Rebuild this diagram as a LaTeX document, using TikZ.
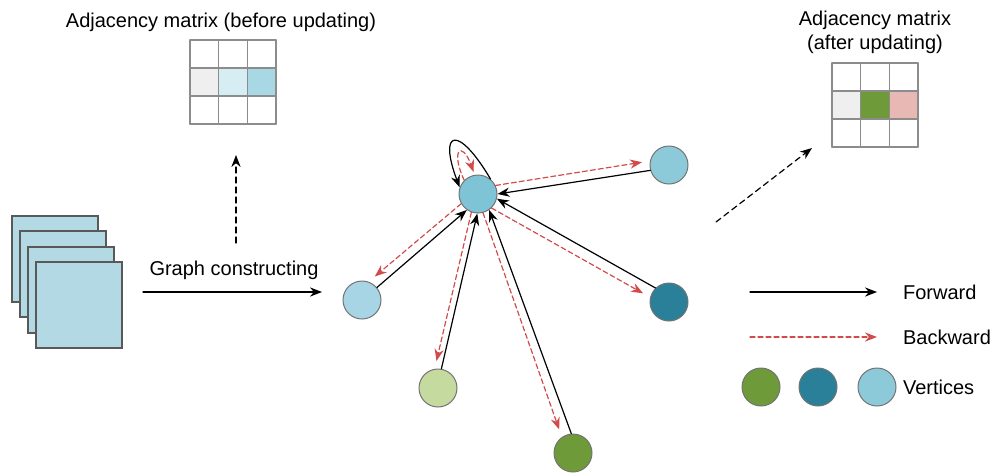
\documentclass[tikz,border=0pt]{standalone}
\usepackage{fontspec}
\setmainfont{Liberation Sans}
\usetikzlibrary{arrows.meta}
\definecolor{redarr}{HTML}{D24B4B}
\definecolor{vgreen}{HTML}{6F9A3A}
\definecolor{vlgreen}{HTML}{C4DA9F}
\definecolor{vteal}{HTML}{2B8099}
\definecolor{vblue}{HTML}{7EC4D6}
\definecolor{vlblue}{HTML}{A8D5E6}
\definecolor{vmblue}{HTML}{8CCADA}
\definecolor{sheetfill}{HTML}{B3D9E5}
\definecolor{cellgray}{HTML}{EFEFEF}
\definecolor{cellpale}{HTML}{D6EDF3}
\definecolor{cellblue}{HTML}{A8D8E4}
\definecolor{cellpink}{HTML}{E8B8B4}

\begin{document}
\begin{tikzpicture}[x=0.5pt,y=-0.5pt,>={Stealth[length=6pt,width=4.6pt]},font=\fontsize{10}{12}\selectfont,line cap=round,
  vertex/.style={circle,draw=black!55,line width=0.5pt,minimum size=19pt,inner sep=0pt},
  fwd/.style={->,black,line width=0.6pt},
  bwd/.style={-{Stealth[length=6pt,width=4.6pt]},redarr,line width=0.6pt,dash pattern=on 2.5pt off 1.5pt,shorten >=4pt},
  hint/.style={->,black,line width=0.6pt,dash pattern=on 3pt off 2pt},
  cell/.style={draw=black!45,line width=0.7pt},
  sheet/.style={draw=black!65,fill=sheetfill,line width=0.6pt}]
\useasboundingbox (0,0) rectangle (992,473);

% matrix before updating
\node (tbefore) at (221,22) {Adjacency matrix (before updating)};
\fill[cellgray] (190,68) rectangle (218.67,96);
\fill[cellpale] (218.67,68) rectangle (247.33,96);
\fill[cellblue] (247.33,68) rectangle (276,96);
\foreach \i in {0,1,2,3} {
  \draw[cell] (190+28.67*\i,40) -- ++(0,84);
  \draw[cell] (190,40+28*\i) -- ++(86,0);
}

% matrix after updating
\node[align=center] (tafter) at (875,32) {Adjacency matrix\\(after updating)};
\fill[cellgray] (832,91) rectangle (860.67,119);
\fill[vgreen] (860.67,91) rectangle (889.33,119);
\fill[cellpink] (889.33,91) rectangle (918,119);
\foreach \i in {0,1,2,3} {
  \draw[cell] (832+28.67*\i,63) -- ++(0,84);
  \draw[cell] (832,63+28*\i) -- ++(86,0);
}

% input sheets
\foreach \dx/\dy in {0/0,8/15,16/31,24/46}
  \draw[sheet] (12+\dx,216+\dy) rectangle ++(86,86);

\coordinate (g0) at (143,292);
\coordinate (g1) at (322,292);
\draw[fwd] (g0) -- (g1);
\node (gtxt) at (234,270) {Graph constructing};

\coordinate (m0) at (236,243);
\coordinate (m1) at (236,155);
\draw[hint] (m0) -- (m1);
\coordinate (d0) at (716,222);
\coordinate (d1) at (812,148);
\draw[hint] (d0) -- (d1);

% graph
\node[vertex,fill=vblue] (C) at (478,194) {};
\node[vertex,fill=vmblue] (TR) at (669,165) {};
\node[vertex,fill=vlblue] (L) at (362,300) {};
\node[vertex,fill=vteal] (R) at (669,302) {};
\node[vertex,fill=vlgreen] (BL) at (438,388) {};
\node[vertex,fill=vgreen] (B) at (573,453) {};

\draw[fwd] (TR.196) -- (C.0);
\draw[bwd] (C.26) -- (TR.168);
\draw[fwd] (L.40) -- (C.235);
\draw[bwd] (C.210) -- (L.70);
\draw[fwd] (BL.80) -- (C.268);
\draw[bwd] (C.250) -- (BL.100);
\draw[fwd] (B.95) -- (C.305);
\draw[bwd] (C.285) -- (B.125);
\draw[fwd] (R.134) -- (C.346);
\draw[bwd] (C.314) -- (R.166);
\draw[fwd] (C.50) .. controls (458,124) and (438,130) .. (C.160);
\draw[bwd,shorten >=1.5pt] (C.135) .. controls (450,150) and (462,140) .. (C.100);

% legend
\coordinate (f0) at (750,292);
\coordinate (f1) at (877,292);
\draw[fwd] (f0) -- (f1);
\node[right] (ftxt) at (896,292) {Forward};
\coordinate (b0) at (750,337);
\coordinate (b1) at (885,337);
\draw[bwd] (b0) -- (b1);
\node[right] (btxt) at (896,337) {Backward};
\node[vertex,fill=vgreen] (k1) at (761,387) {};
\node[vertex,fill=vteal] (k2) at (818,387) {};
\node[vertex,fill=vmblue] (k3) at (877,387) {};
\node[right] (vtxt) at (896,387) {Vertices};
\end{tikzpicture}
\end{document}
